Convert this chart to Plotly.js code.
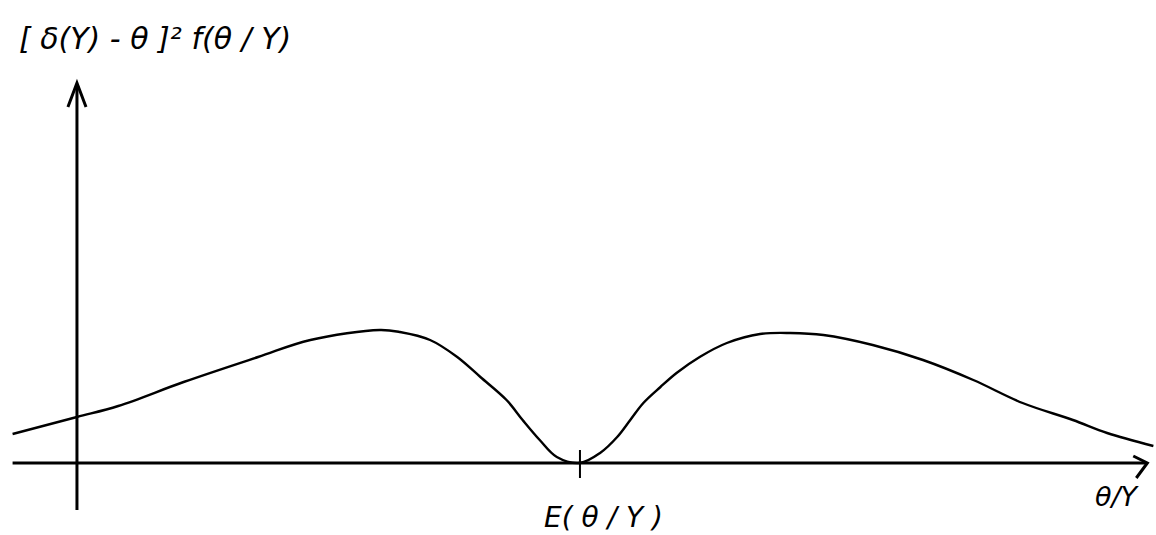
<!DOCTYPE html>
<html>
<head>
<meta charset="utf-8">
<script src="https://cdn.plot.ly/plotly-3.0.1.min.js"></script>
<style>
  html, body { margin: 0; padding: 0; background: #fff; }
  #chart { width: 1156px; height: 535px; }
</style>
</head>
<body>
<div id="chart"></div>
<script>
// Posterior-weighted squared-error loss as a function of theta given Y.
// theta is measured from the vertical axis; the posterior mean E(theta/Y) sits at 5.
const theta = [-0.64, 0.0, 0.41, 1.06, 1.80, 2.32, 3.01, 3.21, 3.51, 3.78, 4.01, 4.27, 4.43, 4.60, 4.77, 5.0,
               5.20, 5.37, 5.50, 5.63, 5.80, 5.96, 6.19, 6.46, 6.79, 7.09, 7.42, 7.91, 8.41, 8.91, 9.40, 9.90, 10.24, 10.70];
const loss  = [0.29, 0.46, 0.57, 0.81, 1.06, 1.23, 1.33, 1.31, 1.23, 1.06, 0.86, 0.63, 0.43, 0.23, 0.06, 0.0,
               0.10, 0.26, 0.43, 0.60, 0.76, 0.90, 1.06, 1.20, 1.29, 1.30, 1.28, 1.18, 1.03, 0.83, 0.60, 0.43, 0.30, 0.17];

const posteriorMean = 5;
const yTitle = '[ δ(Y) - θ ]² f(θ / Y)';
const meanLabel = 'E( θ / Y )';
const xTitle = 'θ/Y';

const ink = '#000';
const hand = 'DejaVu Sans, sans-serif';

const trace = {
  x: theta, y: loss, type: 'scatter', mode: 'lines',
  line: { color: ink, width: 2.4, shape: 'spline', smoothing: 1.0 },
  hoverinfo: 'skip'
};

const shapes = [
  // horizontal axis
  { type: 'line', x0: -0.64, x1: 10.62, y0: 0, y1: 0, line: { color: ink, width: 3 } },
  // vertical axis
  { type: 'line', x0: 0, x1: 0, y0: -0.47, y1: 3.78, line: { color: ink, width: 3 } },
  // vertical arrowhead
  { type: 'path', path: 'M -0.09,3.56 L 0,3.80 L 0.09,3.56', line: { color: ink, width: 3 } },
  // horizontal arrowhead
  { type: 'path', path: 'M 10.50,0.07 L 10.64,0 L 10.53,-0.15', line: { color: ink, width: 3 } },
  // tick at the posterior mean
  { type: 'line', x0: posteriorMean, x1: posteriorMean, y0: 0.13, y1: -0.15, line: { color: ink, width: 2 } }
];

const annotations = [
  { x: 0.015, y: 0.965, xref: 'paper', yref: 'paper', xanchor: 'left', yanchor: 'top',
    text: '<i>' + yTitle + '</i>', showarrow: false, font: { family: hand, size: 30, color: ink } },
  { x: posteriorMean + 0.23, y: -0.54, xanchor: 'center', yanchor: 'middle',
    text: '<i>' + meanLabel + '</i>', showarrow: false, font: { family: hand, size: 28, color: ink } },
  { x: 10.34, y: -0.33, xanchor: 'center', yanchor: 'middle',
    text: '<i>' + xTitle + '</i>', showarrow: false, font: { family: hand, size: 27, color: ink } }
];

const layout = {
  width: 1156, height: 535,
  margin: { l: 0, r: 0, t: 0, b: 0 },
  paper_bgcolor: '#fff', plot_bgcolor: '#fff',
  showlegend: false,
  xaxis: { range: [-0.765, 10.726], visible: false, fixedrange: true },
  yaxis: { range: [-0.72, 4.63], visible: false, fixedrange: true },
  shapes: shapes,
  annotations: annotations
};

Plotly.newPlot('chart', [trace], layout, { displayModeBar: false, staticPlot: true });
</script>
</body>
</html>
